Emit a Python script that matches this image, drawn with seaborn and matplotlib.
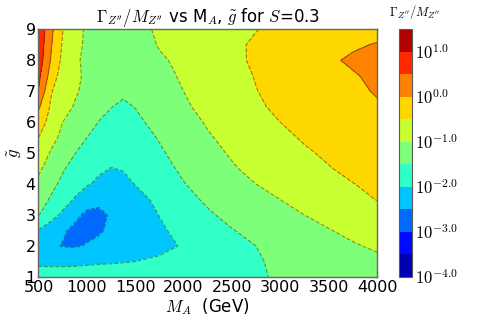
import numpy as np
import pandas as pd
import seaborn as sns
import matplotlib
matplotlib.use("Agg")
import matplotlib.pyplot as plt

# ---- data (log10 of Gamma/M) ----
mass_a = [500, 625, 750, 875, 1000, 1125, 1250, 1375, 1500, 1750,
          2000, 2250, 2500, 2750, 3000, 3250, 3500, 3750, 4000]
g_tilde = [1.0, 1.5, 2.0, 2.5, 3.0, 3.5, 4.0, 4.5, 5.0,
           5.5, 6.0, 6.5, 7.0, 7.5, 8.0, 8.5, 9.0]

w_g10 = [-1.85, -1.82, -1.80, -1.80, -1.79, -1.78, -1.77, -1.76, -1.75, -1.71, -1.66, -1.62, -1.57, -1.53, -1.47, -1.40, -1.34, -1.28, -1.22]
w_g15 = [-2.07, -2.09, -2.10, -2.09, -2.07, -2.05, -2.04, -2.02, -2.00, -1.92, -1.82, -1.72, -1.62, -1.53, -1.44, -1.36, -1.27, -1.18, -1.09]
w_g20 = [-2.32, -2.44, -2.52, -2.54, -2.47, -2.40, -2.36, -2.32, -2.27, -2.13, -1.96, -1.80, -1.65, -1.50, -1.37, -1.26, -1.15, -1.04, -0.94]
w_g25 = [-2.03, -2.25, -2.45, -2.60, -2.62, -2.55, -2.42, -2.35, -2.27, -2.07, -1.86, -1.67, -1.52, -1.37, -1.25, -1.14, -1.02, -0.90, -0.80]
w_g30 = [-1.48, -1.82, -2.10, -2.40, -2.60, -2.62, -2.45, -2.36, -2.26, -1.99, -1.76, -1.56, -1.38, -1.24, -1.12, -1.00, -0.88, -0.77, -0.66]
w_g35 = [-1.30, -1.54, -1.78, -2.04, -2.30, -2.38, -2.31, -2.26, -2.12, -1.92, -1.64, -1.43, -1.26, -1.12, -1.00, -0.86, -0.73, -0.61, -0.49]
w_g40 = [-1.10, -1.38, -1.60, -1.80, -1.96, -2.08, -2.14, -2.10, -1.99, -1.78, -1.52, -1.31, -1.14, -1.00, -0.86, -0.74, -0.62, -0.51, -0.41]
w_g45 = [-0.92, -1.20, -1.46, -1.64, -1.80, -1.94, -2.01, -1.98, -1.90, -1.66, -1.42, -1.21, -1.04, -0.89, -0.76, -0.64, -0.52, -0.41, -0.32]
w_g50 = [-0.72, -1.03, -1.28, -1.49, -1.66, -1.80, -1.88, -1.88, -1.80, -1.56, -1.33, -1.12, -0.96, -0.80, -0.67, -0.55, -0.44, -0.34, -0.26]
w_g55 = [-0.50, -0.86, -1.10, -1.33, -1.50, -1.64, -1.74, -1.76, -1.70, -1.47, -1.25, -1.04, -0.88, -0.72, -0.59, -0.46, -0.35, -0.25, -0.17]
w_g60 = [-0.22, -0.68, -1.00, -1.20, -1.38, -1.51, -1.60, -1.64, -1.58, -1.38, -1.16, -0.96, -0.80, -0.64, -0.50, -0.38, -0.27, -0.18, -0.11]
w_g65 = [0.07, -0.55, -0.80, -1.04, -1.25, -1.40, -1.49, -1.56, -1.49, -1.30, -1.06, -0.88, -0.72, -0.56, -0.42, -0.30, -0.19, -0.10, -0.04]
w_g70 = [0.48, -0.45, -0.78, -0.94, -1.12, -1.28, -1.40, -1.44, -1.36, -1.20, -1.00, -0.83, -0.67, -0.51, -0.38, -0.26, -0.16, -0.08, 0.03]
w_g75 = [0.62, -0.18, -0.75, -0.90, -1.08, -1.24, -1.34, -1.34, -1.28, -1.12, -0.95, -0.78, -0.63, -0.48, -0.34, -0.22, -0.12, -0.04, 0.10]
w_g80 = [0.78, -0.01, -0.62, -0.92, -1.10, -1.24, -1.32, -1.31, -1.24, -1.06, -0.90, -0.74, -0.59, -0.44, -0.30, -0.18, -0.07, 0.07, 0.19]
w_g85 = [0.85, 0.06, -0.55, -0.86, -1.08, -1.22, -1.30, -1.29, -1.22, -0.97, -0.86, -0.72, -0.57, -0.45, -0.35, -0.26, -0.16, -0.06, 0.03]
w_g90 = [0.92, 0.14, -0.49, -0.82, -1.07, -1.20, -1.28, -1.25, -1.15, -0.93, -0.85, -0.73, -0.62, -0.51, -0.42, -0.34, -0.27, -0.20, -0.15]

rows = [w_g10, w_g15, w_g20, w_g25, w_g30, w_g35, w_g40, w_g45, w_g50,
        w_g55, w_g60, w_g65, w_g70, w_g75, w_g80, w_g85, w_g90]
cbar_ticks = [-4.0, -3.0, -2.0, -1.0, 0.0, 1.0]

df = pd.DataFrame(rows, index=g_tilde, columns=mass_a)

# ---- style ----
sns.set_theme(style="ticks")
plt.rcParams["font.family"] = ["DejaVu Sans"]
plt.rcParams["mathtext.fontset"] = "cm"
plt.rcParams["xtick.direction"] = "in"
plt.rcParams["ytick.direction"] = "in"
plt.rcParams["text.color"] = "black"
plt.rcParams["axes.labelcolor"] = "black"
plt.rcParams["xtick.labelcolor"] = "black"
plt.rcParams["ytick.labelcolor"] = "black"

fig = plt.figure(figsize=(4.91, 3.27), dpi=100)
ax = fig.add_axes([0.0784, 0.153, 0.6896, 0.757])
cax = fig.add_axes([0.8126, 0.153, 0.0265, 0.757])

X, Y = np.meshgrid(df.columns.values.astype(float), df.index.values.astype(float))
Z = df.values
levels = np.arange(-4.0, 1.51, 0.5)

cf = ax.contourf(X, Y, Z, levels=levels, cmap="jet")
ax.contour(X, Y, Z, levels=levels, colors="k", linewidths=0.8, alpha=0.45)

ax.set_xlim(500, 4000)
ax.set_ylim(1, 9)
ax.set_xticks(np.arange(500, 4001, 500))
ax.set_yticks(np.arange(1, 10, 1))
ax.tick_params(axis="both", which="both", top=True, right=True, length=4,
               width=0.8, labelsize=11.5, pad=2, color="0.35")
for s in ax.spines.values():
    s.set_color("0.4")
    s.set_linewidth(1.0)

ax.set_title(r"$\Gamma_{Z''}/M_{Z''}$ vs M$_A$, $\tilde{g}$ for $S$=0.3",
             fontsize=12, pad=3)
ax.set_xlabel(r"$M_A$  (GeV)", fontsize=12, labelpad=1)
ax.set_ylabel(r"$\tilde{g}$", fontsize=12, labelpad=1)

cb = fig.colorbar(cf, cax=cax, ticks=cbar_ticks)
cb.ax.set_yticklabels([r"$10^{%.1f}$" % t for t in cbar_ticks])
cb.ax.tick_params(labelsize=12, length=0, pad=2)
cb.outline.set_edgecolor("0.35")
cb.outline.set_linewidth(0.8)
fig.text(0.845, 0.962, r"$\Gamma_{Z''}/M_{Z''}$", fontsize=9,
         ha="center", va="center")

fig.savefig("out.png", dpi=100)
